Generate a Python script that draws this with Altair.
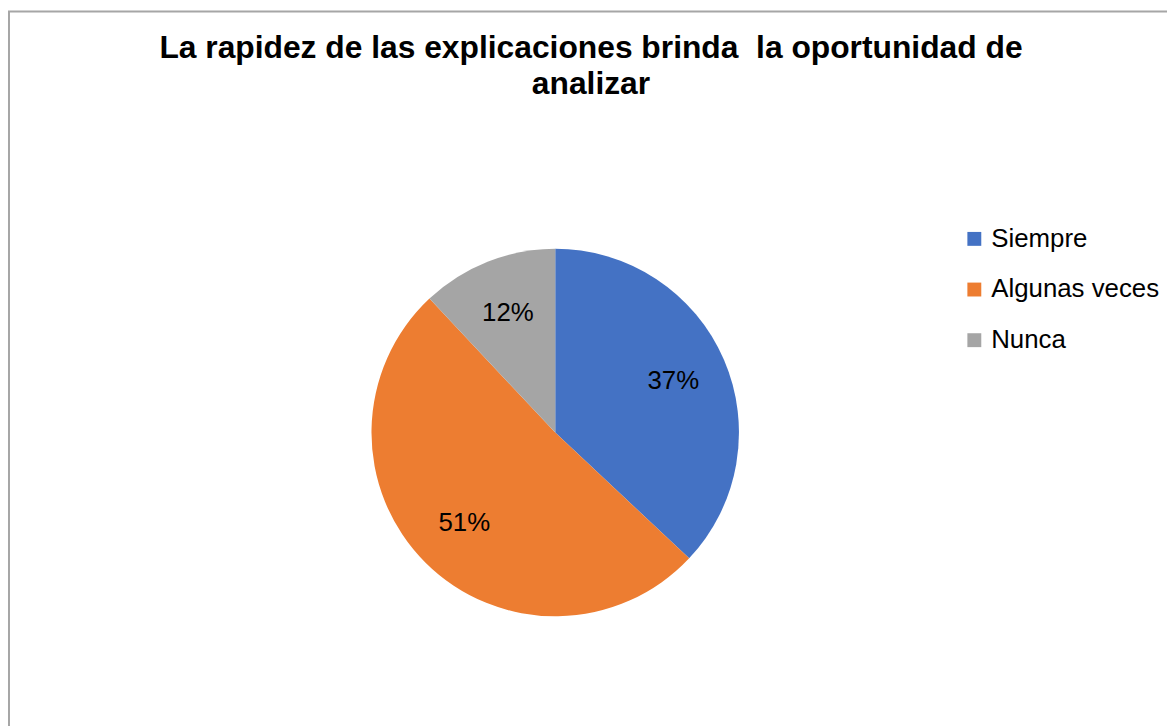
import altair as alt
import pandas as pd

categories = ["Siempre", "Algunas veces", "Nunca"]
values = [37, 51, 12]
colors = ["#4472C4", "#ED7D31", "#A5A5A5"]
title_lines = ["La rapidez de las explicaciones brinda\u00a0 la oportunidad de", "analizar"]

df = pd.DataFrame({"cat": categories, "val": values, "ord": list(range(len(categories)))})
df["label"] = df["val"].astype(str) + "%"

W, H = 1167, 718
CX, CY, R = 551, 425, 185
FONT = "Liberation Sans"

base = alt.Chart(df).encode(
    theta=alt.Theta("val:Q", stack=True),
    order=alt.Order("ord:Q", sort="ascending"),
)

pie = base.mark_arc(outerRadius=R).encode(
    color=alt.Color(
        "cat:N",
        scale=alt.Scale(domain=categories, range=colors),
        sort=categories,
        legend=alt.Legend(
            title=None, orient="none", legendX=960, legendY=217,
            symbolType="square", symbolSize=196, symbolStrokeWidth=0,
            labelFontSize=26, labelFont=FONT, labelColor="black",
            labelLimit=0, rowPadding=25, labelOffset=4, padding=0,
        ),
    ),
    x=alt.value(CX),
    y=alt.value(CY),
)

labels = base.mark_text(radius=0.7 * R, fontSize=26, font=FONT, color="black").encode(
    text="label:N",
    x=alt.value(CX),
    y=alt.value(CY),
)

tdf = pd.DataFrame({"t": title_lines})
title_layers = []
for i, line in enumerate(title_lines):
    title_layers.append(
        alt.Chart(tdf.iloc[[i]]).mark_text(
            fontSize=32, fontWeight="bold", font=FONT, color="black",
            align="center", baseline="middle",
        ).encode(text="t:N", x=alt.value(587), y=alt.value(38 + 36 * i))
    )

border = alt.Chart(pd.DataFrame({"a": [0]})).mark_rect(
    filled=False, stroke="#A6A6A6", strokeWidth=2
).encode(x=alt.value(1), y=alt.value(1), x2=alt.value(W + 60), y2=alt.value(H + 60))

chart = alt.layer(border, pie, labels, *title_layers).properties(
    width=W, height=H,
    autosize=alt.AutoSizeParams(type="none"),
    padding=0,
).configure_view(stroke=None)

chart.save("out.html", embed_options={"renderer": "svg", "actions": False})
